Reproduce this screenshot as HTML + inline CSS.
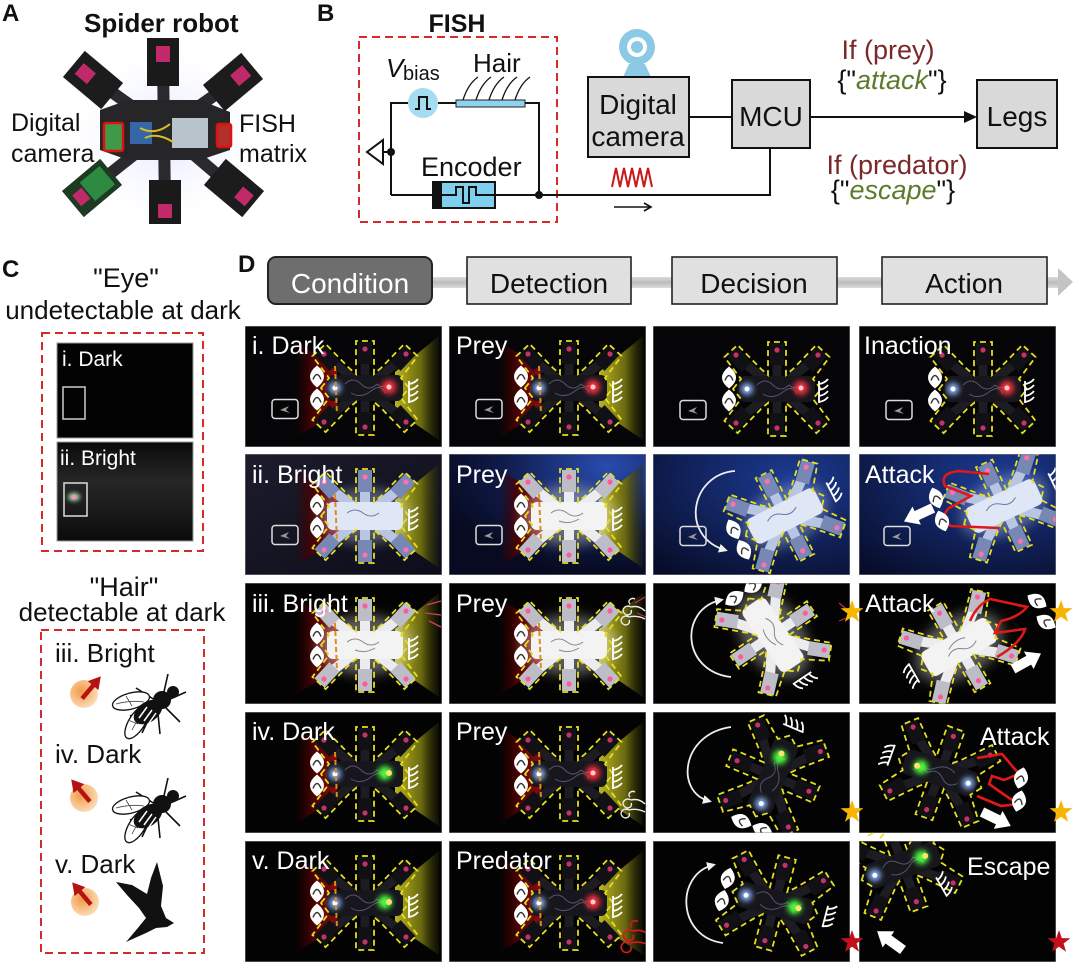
<!DOCTYPE html>
<html><head><meta charset="utf-8">
<style>
html,body{margin:0;padding:0;background:#fff;}
svg{display:block;}
text{font-family:"Liberation Sans",Arial,sans-serif;}
</style></head><body>
<svg width="1080" height="968" viewBox="0 0 1080 968" xmlns="http://www.w3.org/2000/svg" xmlns:xlink="http://www.w3.org/1999/xlink">
<defs>
<linearGradient id="gRed" x1="0" y1="0" x2="1" y2="0"><stop offset="0" stop-color="#3a0000" stop-opacity="0"/><stop offset="0.45" stop-color="#4a0303"/><stop offset="1" stop-color="#8a0c0c"/></linearGradient>
<linearGradient id="gYel" x1="0" y1="0" x2="1" y2="0"><stop offset="0" stop-color="#b8b422"/><stop offset="0.6" stop-color="#6a6810"/><stop offset="1" stop-color="#2a2a05" stop-opacity="0.3"/></linearGradient>
<linearGradient id="gBar" x1="0" y1="0" x2="0" y2="1"><stop offset="0" stop-color="#dcdcdc"/><stop offset="0.5" stop-color="#bcbcbc"/><stop offset="1" stop-color="#dcdcdc"/></linearGradient>
<radialGradient id="gOr" cx="0.4" cy="0.4" r="0.7"><stop offset="0" stop-color="#f29a45"/><stop offset="1" stop-color="#fde4c8"/></radialGradient>
<linearGradient id="gNavy1" x1="0" y1="0" x2="1" y2="1"><stop offset="0" stop-color="#1c1c2c"/><stop offset="1" stop-color="#0c0c1a"/></linearGradient>
<radialGradient id="gNavy2" cx="0.8" cy="0.1" r="0.9"><stop offset="0" stop-color="#2a4cb0"/><stop offset="0.6" stop-color="#0e1a48"/><stop offset="1" stop-color="#070a20"/></radialGradient>
<radialGradient id="gNavy3" cx="0.7" cy="0.2" r="1"><stop offset="0" stop-color="#1c3a92"/><stop offset="1" stop-color="#070c28"/></radialGradient>
<linearGradient id="gCii" x1="0" y1="0" x2="0" y2="1"><stop offset="0" stop-color="#0a0a0a"/><stop offset="0.4" stop-color="#262626"/><stop offset="0.7" stop-color="#1a1a1a"/><stop offset="1" stop-color="#0a0a0a"/></linearGradient>
<radialGradient id="gGlowA" cx="0.5" cy="0.5" r="0.5"><stop offset="0" stop-color="#dfe4ff"/><stop offset="1" stop-color="#ffffff" stop-opacity="0"/></radialGradient>
<filter id="blur2" x="-50%" y="-50%" width="200%" height="200%"><feGaussianBlur stdDeviation="2"/></filter>
<filter id="blur3" x="-50%" y="-50%" width="200%" height="200%"><feGaussianBlur stdDeviation="3"/></filter>
<filter id="blur6" x="-50%" y="-50%" width="200%" height="200%"><feGaussianBlur stdDeviation="6"/></filter>
<marker id="ah" markerWidth="9" markerHeight="9" refX="6" refY="4.5" orient="auto" markerUnits="userSpaceOnUse"><path d="M0,0 L9,4.5 L0,9 Z" fill="#f0f0f0"/></marker>

<path id="ol" d="M-44,0 L-36,-10 L-52.6,-31.9 L-39.4,-44.1 L-16,-20 L-9,-14 L-9,-47 L9,-47 L9,-14 L16,-20 L39.4,-44.1 L52.6,-31.9 L36,-10 L44,0 L36,10 L52.6,31.9 L39.4,44.1 L16,20 L9,14 L9,47 L-9,47 L-9,14 L-16,20 L-39.4,44.1 L-52.6,31.9 L-36,10 Z"/>
<g id="mods">
 <rect x="-7" y="-46" width="14" height="22"/>
 <rect x="-7" y="24" width="14" height="22"/>
 <rect x="-7" y="-11" width="14" height="22" transform="translate(-38,-30) rotate(-43)"/>
 <rect x="-7" y="-11" width="14" height="22" transform="translate(38,-30) rotate(43)"/>
 <rect x="-7" y="-11" width="14" height="22" transform="translate(-38,30) rotate(43)"/>
 <rect x="-7" y="-11" width="14" height="22" transform="translate(38,30) rotate(-43)"/>
</g>
<path id="arms" d="M0,0 L-38,-30 M0,0 L38,-30 M0,0 L-38,30 M0,0 L38,30 M0,-35 V35" fill="none"/>
<g id="pinks">
 <circle cx="0" cy="-39" r="2.6"/><circle cx="0" cy="39" r="2.6"/>
 <circle cx="-41" cy="-34" r="2.6"/><circle cx="41" cy="-34" r="2.6"/>
 <circle cx="-41" cy="34" r="2.6"/><circle cx="41" cy="34" r="2.6"/>
</g>
<g id="rdk">
 <use href="#arms" stroke="#1c1c22" stroke-width="9"/>
 <rect x="-38" y="-13" width="76" height="26" rx="6" fill="#16161c"/>
 <use href="#mods" fill="#111115"/>
 <use href="#pinks" fill="#c8306a"/>
 <path d="M-20,-4 q8,-8 16,0 t16,0 q6,6 14,-2 M-14,5 q10,6 20,-2 t14,2" stroke="#55556a" stroke-width="1" fill="none"/>
 <use href="#ol" fill="none" stroke="#e6df1e" stroke-width="1.8" stroke-dasharray="6 4"/>
</g>
<g id="rwh">
 <ellipse rx="48" ry="30" fill="#fff" opacity="0.35" filter="url(#blur6)"/>
 <use href="#arms" stroke="#ececee" stroke-width="10"/>
 <rect x="-38" y="-14" width="76" height="28" rx="6" fill="#f3f3f3"/>
 <use href="#mods" fill="#bdbdc8"/>
 <use href="#pinks" fill="#ff5aa0"/>
 <path d="M-18,-3 q8,-6 16,0 t16,0 M-10,5 q10,4 20,-2" stroke="#888" stroke-width="1" fill="none"/>
 <use href="#ol" fill="none" stroke="#e6df1e" stroke-width="1.8" stroke-dasharray="6 4"/>
</g>
<g id="rbl">
 <ellipse rx="46" ry="28" fill="#cfe0ff" opacity="0.35" filter="url(#blur6)"/>
 <use href="#arms" stroke="#b8c6e4" stroke-width="10"/>
 <rect x="-38" y="-14" width="76" height="28" rx="6" fill="#dfe6f6"/>
 <use href="#mods" fill="#7888b4"/>
 <use href="#pinks" fill="#ff70b0"/>
 <path d="M-18,-3 q8,-6 16,0 t16,0" stroke="#6a7aa0" stroke-width="1" fill="none"/>
 <use href="#ol" fill="none" stroke="#e6df1e" stroke-width="1.8" stroke-dasharray="6 4"/>
</g>
<g id="eye"><path d="M0,-11 Q14,0 0,11 Q-14,0 0,-11Z" fill="#fff"/><path d="M-4,3 Q0,-7 4,3" fill="none" stroke="#333" stroke-width="1.4"/></g>
<g id="eyes"><use href="#eye" y="-11.5"/><use href="#eye" y="11.5"/></g>
<path id="hair" d="M-4,-11 V11 M-4,-8 q6,-1 9,-5 M-4,-2 q6,-1 9,-5 M-4,4 q6,-1 9,-5 M-4,10 q6,-1 9,-5" fill="none" stroke="#fff" stroke-width="1.8"/>
<g id="pm"><rect x="-13" y="-9.5" width="26" height="19" rx="3" fill="none" stroke="#ddd" stroke-width="1.5"/><path d="M-5,1 L4,-3 L1,1 L5,4 Z" fill="#999"/></g>
<polygon id="wa" points="0,-5 18,-5 18,-10 32,0 18,10 18,5 0,5" fill="#fff"/>
<path id="star" d="M0,-12 L2.82,-3.88 L11.41,-3.71 L4.56,1.48 L7.05,9.71 L0,4.8 L-7.05,9.71 L-4.56,1.48 L-11.41,-3.71 L-2.82,-3.88 Z"/>
<path id="swirl" d="M0,0 c-5,-3 -10,2 -7,6 c3,4 9,1 7,-3 M-2,10 c-5,-3 -10,2 -7,6 c3,4 9,1 7,-3 M0,0 q8,-2 14,4 M-2,10 q8,-2 16,2 M4,-8 c-4,-2 -8,2 -5,5" fill="none" stroke-width="1.4"/>
<g id="lightsBR"><circle cx="-30" cy="0" r="6" fill="#8fb8ff" filter="url(#blur3)"/><circle cx="-30" cy="0" r="2.5" fill="#fff"/><circle cx="24" cy="-1" r="7" fill="#ff3040" filter="url(#blur3)"/><circle cx="24" cy="-1" r="2.5" fill="#ffd0d0"/></g>
<g id="lightsBG"><circle cx="-30" cy="0" r="6" fill="#8fb8ff" filter="url(#blur3)"/><circle cx="-30" cy="0" r="2.5" fill="#fff"/><circle cx="20" cy="-1" r="7" fill="#50ff40" filter="url(#blur3)"/><circle cx="24" cy="-1" r="3" fill="#ffe070"/></g>
<g id="hic"><path d="M0,6 L0,-14" stroke="#b51212" stroke-width="4.5"/><polygon points="-7,-11 0,-23 7,-11" fill="#b51212"/></g>
<g id="fly">
 <path d="M158,702 L136,688 M156,706 L130,716 M163,696 L168,674 M168,700 L186,692 M166,708 L180,722 M158,714 L160,734 M150,716 L142,733" stroke="#111" stroke-width="1.6"/>
 <ellipse cx="131" cy="701" rx="19" ry="8" transform="rotate(-15 131 701)" fill="#fff" stroke="#111" stroke-width="1.3"/>
 <ellipse cx="137" cy="722" rx="19" ry="8" transform="rotate(-58 137 722)" fill="#fff" stroke="#111" stroke-width="1.3"/>
 <path d="M116,704 q14,-4 28,-2 M126,696 l6,10 M132,730 q6,-12 12,-18 M128,720 l10,4" stroke="#444" stroke-width="0.8" fill="none"/>
 <ellipse cx="148" cy="712" rx="16" ry="10" transform="rotate(-35 148 712)" fill="#111"/>
 <path d="M139,718 l8,-11 M144,721 l8,-11 M149,723 l7,-10" stroke="#fff" stroke-width="1.5"/>
 <circle cx="162" cy="700" r="9" fill="#111"/>
 <circle cx="173" cy="692" r="6" fill="#111"/>
</g>
</defs>

<!-- ================= PANEL A ================= -->
<text x="2" y="21" font-size="24" font-weight="bold" fill="#111">A</text>
<text x="84" y="32" font-size="26" font-weight="bold" fill="#111">Spider robot</text>
<ellipse cx="165" cy="135" rx="105" ry="95" fill="url(#gGlowA)"/>
<path d="M165,130 L95,80 M165,130 L232,83 M165,130 L92,188 M165,130 L233,188 M163,62 L165,205" stroke="#2a2a2e" stroke-width="12"/>
<polygon points="100,110 128,100 200,100 230,112 230,150 200,160 128,160 100,150" fill="#262628"/>
<rect x="104" y="123" width="19" height="28" fill="#3f9a48"/>
<rect x="130" y="122" width="22" height="22" fill="#3466a8"/>
<rect x="172" y="118" width="36" height="30" fill="#b9c3cb"/>
<path d="M140,128 q15,8 30,-4 M145,138 q12,-6 28,4" stroke="#d8c020" stroke-width="2" fill="none"/>
<g transform="translate(163,62)"><rect x="-16" y="-24" width="32" height="48" fill="#1a1a1a"/><rect x="-7" y="-16" width="14" height="16" fill="#c02a6a"/></g>
<g transform="translate(165,202)"><rect x="-16" y="-22" width="32" height="44" fill="#1a1a1a"/><rect x="-7" y="2" width="14" height="14" fill="#c02a6a"/></g>
<g transform="translate(93,80) rotate(-50)"><rect x="-17" y="-25" width="34" height="50" fill="#1c1c1c"/><rect x="-7" y="-18" width="14" height="16" fill="#c02a6a"/></g>
<g transform="translate(233,82) rotate(50)"><rect x="-17" y="-25" width="34" height="50" fill="#1c1c1c"/><rect x="-7" y="-18" width="14" height="16" fill="#c02a6a"/></g>
<g transform="translate(92,188) rotate(50)"><rect x="-17" y="-25" width="34" height="50" fill="#1d3a22"/><rect x="-12" y="-20" width="24" height="26" fill="#2e8a40"/><rect x="-7" y="8" width="14" height="12" fill="#c02a6a"/></g>
<g transform="translate(234,188) rotate(-50)"><rect x="-17" y="-25" width="34" height="50" fill="#1c1c1c"/><rect x="-7" y="6" width="14" height="14" fill="#c02a6a"/></g>
<rect x="104" y="123" width="19" height="28" rx="2" fill="none" stroke="#e01010" stroke-width="2.5"/>
<rect x="217" y="124" width="14" height="23" rx="2" fill="#b03030" stroke="#e01010" stroke-width="2.5"/>
<text x="11" y="131" font-size="25" fill="#111">Digital</text>
<text x="11" y="162" font-size="25" fill="#111">camera</text>
<text x="239" y="132" font-size="25" fill="#111">FISH</text>
<text x="239" y="162" font-size="25" fill="#111">matrix</text>

<!-- ================= PANEL B ================= -->
<text x="317" y="21" font-size="24" font-weight="bold" fill="#111">B</text>
<text x="457" y="32" font-size="25" font-weight="bold" fill="#111" text-anchor="middle">FISH</text>
<rect x="359" y="37" width="198" height="185" fill="none" stroke="#d42a2a" stroke-width="2" stroke-dasharray="8 5"/>
<text x="386" y="77" font-size="26" font-style="italic" fill="#111">V</text>
<text x="403" y="80" font-size="20" fill="#111">bias</text>
<text x="473" y="72" font-size="26" fill="#111">Hair</text>
<path d="M391,195 V103 H408 M438,103 H456 M525,103 H539 V195 M391,195 H433 M495,195 H770 V148" fill="none" stroke="#111" stroke-width="2"/>
<circle cx="423" cy="103" r="15" fill="#a6dcf2"/>
<path d="M415,109 H419 V97 H427 V109 H431" fill="none" stroke="#111" stroke-width="2"/>
<rect x="456" y="100" width="69" height="7" fill="#8fd3ef" stroke="#222" stroke-width="1"/>
<path d="M463,100 Q468,84 478,77 M476,100 Q481,84 491,77 M489,100 Q494,84 504,77 M502,100 Q507,84 517,77 M515,100 Q520,84 530,77" fill="none" stroke="#111" stroke-width="1.3"/>
<polygon points="367,152 383,140 383,164" fill="#fff" stroke="#111" stroke-width="2"/>
<path d="M383,152 H391" stroke="#111" stroke-width="2"/>
<circle cx="391" cy="152" r="4" fill="#111"/>
<text x="421" y="176" font-size="27" fill="#111">Encoder</text>
<rect x="433" y="182" width="62" height="26" fill="#7fd0ee" stroke="#111" stroke-width="2"/>
<rect x="433" y="182" width="9" height="26" fill="#111"/>
<path d="M442,195 H456 V187 H463 V203 H469 V187 H476 V195 H495" fill="none" stroke="#111" stroke-width="2"/>
<circle cx="539" cy="195" r="4" fill="#111"/>
<!-- camera -->
<circle cx="637" cy="47" r="18" fill="#8cc9e4"/>
<circle cx="637" cy="47" r="10" fill="#fff"/>
<circle cx="637" cy="47" r="6" fill="#8cc9e4"/>
<polygon points="629,64 645,64 651,77 623,77" fill="#8cc9e4"/>
<rect x="588" y="77" width="101" height="80" fill="#d9d9d9" stroke="#111" stroke-width="2"/>
<text x="638" y="114" font-size="28" fill="#111" text-anchor="middle">Digital</text>
<text x="638" y="146" font-size="28" fill="#111" text-anchor="middle">camera</text>
<path d="M689,117 H732" stroke="#111" stroke-width="2"/>
<rect x="732" y="80" width="78" height="68" fill="#d9d9d9" stroke="#111" stroke-width="2"/>
<text x="771" y="126" font-size="28" fill="#111" text-anchor="middle">MCU</text>
<path d="M810,117 H966" stroke="#111" stroke-width="2"/>
<polygon points="964,111 977,117 964,123" fill="#111"/>
<rect x="977" y="80" width="80" height="68" fill="#d9d9d9" stroke="#111" stroke-width="2"/>
<text x="1017" y="126" font-size="28" fill="#111" text-anchor="middle">Legs</text>
<path d="M612,187 L616,168 L620,187 L624,168 L628,187 L632,168 L636,187 L640,168 L644,187 L648,168 L652,187" fill="none" stroke="#c81818" stroke-width="2"/>
<path d="M614,207 H650 M644,203 L651,207 L644,211" fill="none" stroke="#111" stroke-width="1.6"/>
<text x="888" y="59" font-size="27" fill="#7a2828" text-anchor="middle">If (prey)</text>
<text x="892" y="89" font-size="27" fill="#111" text-anchor="middle">{"<tspan font-style="italic" fill="#5d7a2c">attack</tspan>"}</text>
<text x="897" y="174" font-size="27" fill="#7a2828" text-anchor="middle">If (predator)</text>
<text x="893" y="199" font-size="27" fill="#111" text-anchor="middle">{"<tspan font-style="italic" fill="#5d7a2c">escape</tspan>"}</text>

<!-- ================= PANEL C ================= -->
<text x="2" y="277" font-size="24" font-weight="bold" fill="#111">C</text>
<text x="126" y="287" font-size="27" fill="#111" text-anchor="middle">"Eye"</text>
<text x="123" y="319" font-size="26" fill="#111" text-anchor="middle">undetectable at dark</text>
<rect x="42" y="333" width="161" height="218" fill="none" stroke="#d42a2a" stroke-width="2" stroke-dasharray="8 5"/>
<rect x="57" y="343" width="136" height="95" fill="#030303" stroke="#999" stroke-width="1"/>
<text x="62" y="366" font-size="21" fill="#fff">i. Dark</text>
<rect x="63" y="387" width="22" height="32" fill="none" stroke="#ccc" stroke-width="1.5"/>
<rect x="57" y="442" width="136" height="99" fill="url(#gCii)" stroke="#999" stroke-width="1"/>
<text x="60" y="465" font-size="21" fill="#fff">ii. Bright</text>
<rect x="64" y="483" width="23" height="33" fill="none" stroke="#ddd" stroke-width="1.5"/>
<ellipse cx="74" cy="497" rx="6" ry="4" fill="#9fe0a0" filter="url(#blur2)"/>
<circle cx="74" cy="497" r="2.5" fill="#ff8ac8"/>
<text x="124" y="596" font-size="27" fill="#111" text-anchor="middle">"Hair"</text>
<text x="122" y="621" font-size="26" fill="#111" text-anchor="middle">detectable at dark</text>
<rect x="41" y="630" width="163" height="323" fill="none" stroke="#d42a2a" stroke-width="2" stroke-dasharray="8 5"/>
<text x="55" y="662" font-size="26" fill="#111">iii. Bright</text>
<text x="55" y="763" font-size="26" fill="#111">iv. Dark</text>
<text x="55" y="873" font-size="26" fill="#111">v. Dark</text>
<circle cx="84" cy="694" r="14" fill="url(#gOr)"/>
<use href="#hic" transform="translate(86,694) rotate(40)"/>
<circle cx="84" cy="798" r="14" fill="url(#gOr)"/>
<use href="#hic" transform="translate(86,797) rotate(-40)"/>
<circle cx="85" cy="902" r="14" fill="url(#gOr)"/>
<use href="#hic" transform="translate(87,900) rotate(-40)"/>
<use href="#fly"/>
<use href="#fly" y="104"/>
<path d="M174,923 L166,918 L161,906 L163,886 L157,862 L151,878 L147,894 L132,885 L116,882 L127,895 L139,908 L146,918 L137,929 L126,942 L146,933 L156,928 L167,927 Z" fill="#111"/>

<!-- ================= PANEL D header ================= -->
<text x="238" y="272" font-size="24" font-weight="bold" fill="#111">D</text>
<rect x="432" y="277" width="630" height="11" fill="url(#gBar)"/>
<polygon points="1058,268 1073,282 1058,296" fill="#c4c4c4"/>
<rect x="268" y="257" width="164" height="47" rx="8" fill="#6e6e6e" stroke="#222" stroke-width="2"/>
<text x="350" y="293" font-size="28" fill="#fff" text-anchor="middle">Condition</text>
<rect x="467" y="257" width="164" height="47" fill="#e0e0e0" stroke="#222" stroke-width="1.6"/>
<text x="549" y="293" font-size="28" fill="#111" text-anchor="middle">Detection</text>
<rect x="672" y="257" width="165" height="47" fill="#e0e0e0" stroke="#222" stroke-width="1.6"/>
<text x="754" y="293" font-size="28" fill="#111" text-anchor="middle">Decision</text>
<rect x="882" y="257" width="165" height="47" fill="#e0e0e0" stroke="#222" stroke-width="1.6"/>
<text x="964" y="293" font-size="28" fill="#111" text-anchor="middle">Action</text>

<!-- ================= ROW i ================= -->
<svg x="245" y="326" width="197" height="121">
 <rect width="197" height="121" fill="#050507"/>
 <polygon points="50,15 92,42 92,86 50,112" fill="url(#gRed)"/>
 <polygon points="150,46 194,10 194,114 150,84" fill="url(#gYel)"/>
 <g transform="translate(120,62)"><use href="#rdk"/><use href="#lightsBR"/></g>
 <path d="M90,40 L92,88" stroke="#e08a18" stroke-width="2" stroke-dasharray="5 3"/>
 <use href="#eyes" x="72" y="62"/>
 <use href="#hair" x="168" y="66"/>
 <use href="#pm" x="40" y="83"/>
 <text x="7" y="28" fill="#fff" font-size="25">i. Dark</text>
 <rect width="197" height="121" fill="none" stroke="#8a8a8a" stroke-width="1"/>
</svg>
<svg x="449" y="326" width="197" height="121">
 <rect width="197" height="121" fill="#050507"/>
 <polygon points="50,15 92,42 92,86 50,112" fill="url(#gRed)"/>
 <polygon points="150,46 194,10 194,114 150,84" fill="url(#gYel)"/>
 <g transform="translate(120,62)"><use href="#rdk"/><use href="#lightsBR"/></g>
 <path d="M90,40 L92,88" stroke="#e08a18" stroke-width="2" stroke-dasharray="5 3"/>
 <use href="#eyes" x="72" y="62"/>
 <use href="#hair" x="168" y="66"/>
 <use href="#pm" x="40" y="83"/>
 <text x="7" y="28" fill="#fff" font-size="25">Prey</text>
 <rect width="197" height="121" fill="none" stroke="#8a8a8a" stroke-width="1"/>
</svg>
<svg x="653" y="326" width="197" height="121">
 <rect width="197" height="121" fill="#050507"/>
 <g transform="translate(124,63)"><use href="#rdk"/><use href="#lightsBR"/></g>
 <use href="#eyes" x="76" y="63"/>
 <use href="#hair" x="170" y="66"/>
 <use href="#pm" x="40" y="84"/>
 <rect width="197" height="121" fill="none" stroke="#8a8a8a" stroke-width="1"/>
</svg>
<svg x="859" y="326" width="197" height="121">
 <rect width="197" height="121" fill="#050507"/>
 <g transform="translate(124,63)"><use href="#rdk"/><use href="#lightsBR"/></g>
 <use href="#eyes" x="76" y="63"/>
 <use href="#hair" x="170" y="66"/>
 <use href="#pm" x="40" y="84"/>
 <text x="5" y="28" fill="#fff" font-size="25">Inaction</text>
 <rect width="197" height="121" fill="none" stroke="#8a8a8a" stroke-width="1"/>
</svg>

<!-- ================= ROW ii ================= -->
<svg x="245" y="454" width="197" height="121">
 <rect width="197" height="121" fill="url(#gNavy1)"/>
 <polygon points="50,15 92,42 92,86 50,112" fill="url(#gRed)"/>
 <polygon points="150,46 194,10 194,114 150,84" fill="url(#gYel)"/>
 <g transform="translate(120,62)"><use href="#rbl"/></g>
 <path d="M90,40 L92,88" stroke="#e08a18" stroke-width="2" stroke-dasharray="5 3"/>
 <use href="#eyes" x="72" y="62"/>
 <use href="#hair" x="168" y="66"/>
 <use href="#pm" x="40" y="81"/>
 <text x="7" y="29" fill="#fff" font-size="25">ii. Bright</text>
 <rect width="197" height="121" fill="none" stroke="#8a8a8a" stroke-width="1"/>
</svg>
<svg x="449" y="454" width="197" height="121">
 <rect width="197" height="121" fill="url(#gNavy2)"/>
 <polygon points="50,15 92,42 92,86 50,112" fill="url(#gRed)"/>
 <polygon points="150,46 194,10 194,114 150,84" fill="url(#gYel)"/>
 <g transform="translate(120,62)"><use href="#rwh"/></g>
 <path d="M90,40 L92,88" stroke="#e08a18" stroke-width="2" stroke-dasharray="5 3"/>
 <use href="#eyes" x="72" y="62"/>
 <use href="#hair" x="168" y="66"/>
 <use href="#pm" x="40" y="81"/>
 <text x="7" y="29" fill="#fff" font-size="25">Prey</text>
 <rect width="197" height="121" fill="none" stroke="#8a8a8a" stroke-width="1"/>
</svg>
<svg x="653" y="454" width="197" height="121">
 <rect width="197" height="121" fill="url(#gNavy3)"/>
 <g transform="translate(132,62) rotate(-27)"><use href="#rbl"/><use href="#eyes" x="-52" y="0"/><use href="#hair" x="56" y="0"/></g>
 <path d="M82,17 C38,20 26,82 72,96" fill="none" stroke="#eee" stroke-width="1.8" marker-end="url(#ah)"/>
 <use href="#pm" x="40" y="82"/>
 <rect width="197" height="121" fill="none" stroke="#8a8a8a" stroke-width="1"/>
</svg>
<svg x="859" y="454" width="197" height="121">
 <rect width="197" height="121" fill="url(#gNavy3)"/>
 <g transform="translate(145,52) rotate(-25)"><use href="#rbl"/><use href="#hair" x="58" y="0"/></g>
 <path d="M130,20 L100,17 Q80,19 86,32 L112,42 L90,54 Q80,64 92,72 L140,74" fill="none" stroke="#e01818" stroke-width="2.6"/>
 <use href="#eye" transform="translate(77,44) rotate(-20)"/>
 <use href="#eye" transform="translate(83,67) rotate(-20)"/>
 <use href="#wa" transform="translate(74,54) rotate(155)"/>
 <use href="#pm" x="38" y="82"/>
 <text x="6" y="29" fill="#fff" font-size="25">Attack</text>
 <rect width="197" height="121" fill="none" stroke="#8a8a8a" stroke-width="1"/>
</svg>

<!-- ================= ROW iii ================= -->
<svg x="245" y="583" width="197" height="121">
 <rect width="197" height="121" fill="#030303"/>
 <polygon points="50,15 92,42 92,86 50,112" fill="url(#gRed)"/>
 <polygon points="150,46 194,10 194,114 150,84" fill="url(#gYel)"/>
 <g transform="translate(120,62)"><use href="#rwh"/></g>
 <path d="M90,40 L92,88" stroke="#e08a18" stroke-width="2" stroke-dasharray="5 3"/>
 <use href="#eyes" x="72" y="62"/>
 <use href="#hair" x="168" y="66"/>
 <path d="M182,22 l14,-4 M180,30 l16,2 M184,38 l12,6" stroke="#d04060" stroke-width="1.3"/>
 <text x="7" y="29" fill="#fff" font-size="25">iii. Bright</text>
 <rect width="197" height="121" fill="none" stroke="#8a8a8a" stroke-width="1"/>
</svg>
<svg x="449" y="583" width="197" height="121">
 <rect width="197" height="121" fill="#030303"/>
 <polygon points="50,15 92,42 92,86 50,112" fill="url(#gRed)"/>
 <polygon points="150,46 194,10 194,114 150,84" fill="url(#gYel)"/>
 <g transform="translate(120,62)"><use href="#rwh"/></g>
 <path d="M90,40 L92,88" stroke="#e08a18" stroke-width="2" stroke-dasharray="5 3"/>
 <use href="#eyes" x="72" y="62"/>
 <use href="#hair" x="168" y="66"/>
 <use href="#swirl" transform="translate(182,24)" stroke="#eee"/>
 <path d="M186,20 l10,-6 M188,30 l9,4" stroke="#c03050" stroke-width="1.2"/>
 <text x="7" y="29" fill="#fff" font-size="25">Prey</text>
 <rect width="197" height="121" fill="none" stroke="#8a8a8a" stroke-width="1"/>
</svg>
<svg x="653" y="583" width="197" height="121">
 <rect width="197" height="121" fill="#030303"/>
 <g transform="translate(120,52) rotate(56)"><use href="#rwh"/><use href="#eyes" x="-52" y="0"/><use href="#hair" x="56" y="0"/></g>
 <path d="M78,94 C28,88 26,26 68,17" fill="none" stroke="#eee" stroke-width="1.8" marker-end="url(#ah)"/>
 <path d="M186,20 l10,8 M186,38 l10,-4" stroke="#c03050" stroke-width="1.2"/>
 <rect width="197" height="121" fill="none" stroke="#8a8a8a" stroke-width="1"/>
</svg>
<svg x="859" y="583" width="197" height="121">
 <rect width="197" height="121" fill="#030303"/>
 <g transform="translate(100,64) rotate(150)"><use href="#rwh"/><use href="#hair" x="56" y="0"/></g>
 <path d="M111,38 Q118,22 131,16 L168,24 Q160,34 142,38 L136,50 L166,46 Q162,60 138,74" fill="none" stroke="#e01818" stroke-width="2.6"/>
 <use href="#eye" transform="translate(178,18) rotate(-60)"/>
 <use href="#eye" transform="translate(187,39) rotate(-60)"/>
 <use href="#wa" transform="translate(154,86) rotate(-29)"/>
 <text x="6" y="29" fill="#fff" font-size="25">Attack</text>
 <rect width="197" height="121" fill="none" stroke="#8a8a8a" stroke-width="1"/>
</svg>

<!-- ================= ROW iv ================= -->
<svg x="245" y="712" width="197" height="121">
 <rect width="197" height="121" fill="#030303"/>
 <polygon points="50,15 92,42 92,86 50,112" fill="url(#gRed)"/>
 <polygon points="150,46 194,10 194,114 150,84" fill="url(#gYel)"/>
 <g transform="translate(120,62)"><use href="#rdk"/><use href="#lightsBG"/></g>
 <path d="M90,40 L92,88" stroke="#e08a18" stroke-width="2" stroke-dasharray="5 3"/>
 <use href="#eyes" x="72" y="62"/>
 <use href="#hair" x="168" y="66"/>
 <text x="7" y="28" fill="#fff" font-size="25">iv. Dark</text>
 <rect width="197" height="121" fill="none" stroke="#8a8a8a" stroke-width="1"/>
</svg>
<svg x="449" y="712" width="197" height="121">
 <rect width="197" height="121" fill="#030303"/>
 <polygon points="50,15 92,42 92,86 50,112" fill="url(#gRed)"/>
 <polygon points="150,46 194,10 194,114 150,84" fill="url(#gYel)"/>
 <g transform="translate(120,62)"><use href="#rdk"/><use href="#lightsBR"/></g>
 <path d="M90,40 L92,88" stroke="#e08a18" stroke-width="2" stroke-dasharray="5 3"/>
 <use href="#eyes" x="72" y="62"/>
 <use href="#hair" x="168" y="66"/>
 <use href="#swirl" transform="translate(182,88)" stroke="#eee"/>
 <text x="7" y="28" fill="#fff" font-size="25">Prey</text>
 <rect width="197" height="121" fill="none" stroke="#8a8a8a" stroke-width="1"/>
</svg>
<svg x="653" y="712" width="197" height="121">
 <rect width="197" height="121" fill="#030303"/>
 <g transform="translate(120,64) rotate(-67)"><use href="#rdk"/><use href="#lightsBG"/><use href="#eyes" x="-54" y="0"/><use href="#hair" x="56" y="0"/></g>
 <path d="M78,15 C28,22 22,80 56,89" fill="none" stroke="#eee" stroke-width="1.8" marker-end="url(#ah)"/>
 <rect width="197" height="121" fill="none" stroke="#8a8a8a" stroke-width="1"/>
</svg>
<svg x="859" y="712" width="197" height="121">
 <rect width="197" height="121" fill="#030303"/>
 <g transform="translate(81,61) rotate(200)"><use href="#rdk"/><use href="#lightsBG"/><use href="#hair" x="56" y="0"/></g>
 <path d="M118,46 L143,42 L160,62 L145,68 L133,64 L130,72 L150,86 L160,92 L142,94 L118,84" fill="none" stroke="#e01818" stroke-width="2.6"/>
 <use href="#eye" transform="translate(162,66) rotate(15)"/>
 <use href="#eye" transform="translate(160,89) rotate(15)"/>
 <use href="#wa" transform="translate(123,100) rotate(26)"/>
 <text x="121" y="33" fill="#fff" font-size="25">Attack</text>
 <rect width="197" height="121" fill="none" stroke="#8a8a8a" stroke-width="1"/>
</svg>

<!-- ================= ROW v ================= -->
<svg x="245" y="841" width="197" height="121">
 <rect width="197" height="121" fill="#030303"/>
 <polygon points="50,15 92,42 92,86 50,112" fill="url(#gRed)"/>
 <polygon points="150,46 194,10 194,114 150,84" fill="url(#gYel)"/>
 <g transform="translate(120,62)"><use href="#rdk"/><use href="#lightsBG"/></g>
 <path d="M90,40 L92,88" stroke="#e08a18" stroke-width="2" stroke-dasharray="5 3"/>
 <use href="#eyes" x="72" y="62"/>
 <use href="#hair" x="168" y="66"/>
 <text x="7" y="28" fill="#fff" font-size="25">v. Dark</text>
 <rect width="197" height="121" fill="none" stroke="#8a8a8a" stroke-width="1"/>
</svg>
<svg x="449" y="841" width="197" height="121">
 <rect width="197" height="121" fill="#030303"/>
 <polygon points="50,15 92,42 92,86 50,112" fill="url(#gRed)"/>
 <polygon points="150,46 194,10 194,114 150,84" fill="url(#gYel)"/>
 <g transform="translate(120,62)"><use href="#rdk"/><use href="#lightsBR"/></g>
 <path d="M90,40 L92,88" stroke="#e08a18" stroke-width="2" stroke-dasharray="5 3"/>
 <use href="#eyes" x="72" y="62"/>
 <use href="#hair" x="168" y="66"/>
 <use href="#swirl" transform="translate(184,90) scale(1.2)" stroke="#d41a1a"/>
 <text x="7" y="28" fill="#fff" font-size="25">Predator</text>
 <rect width="197" height="121" fill="none" stroke="#8a8a8a" stroke-width="1"/>
</svg>
<svg x="653" y="841" width="197" height="121">
 <rect width="197" height="121" fill="#030303"/>
 <g transform="translate(122,62) rotate(15)"><use href="#rdk"/><use href="#lightsBG"/><use href="#eyes" x="-52" y="0"/><use href="#hair" x="56" y="0"/></g>
 <path d="M70,102 C24,96 22,34 60,24" fill="none" stroke="#eee" stroke-width="1.8" marker-end="url(#ah)"/>
 <rect width="197" height="121" fill="none" stroke="#8a8a8a" stroke-width="1"/>
</svg>
<svg x="859" y="841" width="197" height="121">
 <rect width="197" height="121" fill="#030303"/>
 <g transform="translate(44,24) rotate(-20)"><use href="#rdk"/><use href="#lightsBG"/></g>
 <use href="#hair" transform="translate(86,44) rotate(-30)"/>
 <use href="#wa" transform="translate(44,109) rotate(-144)"/>
 <text x="108" y="34" fill="#fff" font-size="25">Escape</text>
 <rect width="197" height="121" fill="none" stroke="#8a8a8a" stroke-width="1"/>
</svg>
<path d="M868,836 l5,-3 M880,838 l4,-4" stroke="#e6df1e" stroke-width="1.6"/>

<!-- stars -->
<use href="#star" transform="translate(852,612)" fill="#f7b500"/>
<use href="#star" transform="translate(1061,612)" fill="#f7b500"/>
<use href="#star" transform="translate(852,812)" fill="#f7b500"/>
<use href="#star" transform="translate(1061,812)" fill="#f7b500"/>
<use href="#star" transform="translate(852,942)" fill="#c4101c"/>
<use href="#star" transform="translate(1059,942)" fill="#c4101c"/>
</svg>
</body></html>
